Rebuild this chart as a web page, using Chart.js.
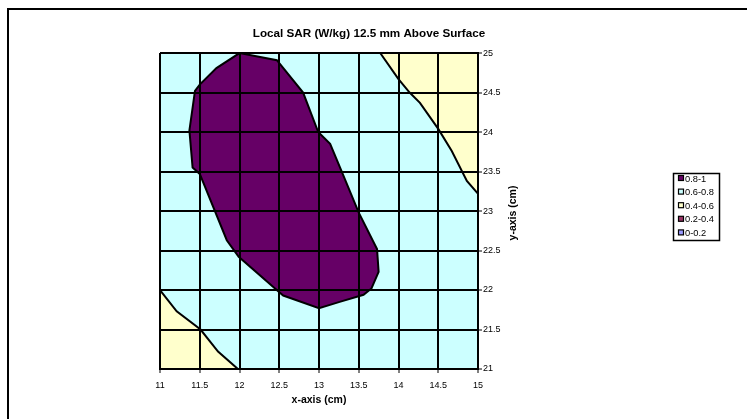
<!DOCTYPE html>
<html>
<head>
<meta charset="utf-8">
<script src="https://cdn.jsdelivr.net/npm/chart.js@4.4.1/dist/chart.umd.min.js"></script>
<style>
  html, body { margin: 0; padding: 0; background: #fff; overflow: hidden; }
  #wrap { position: relative; width: 747px; height: 419px; overflow: hidden; }
  #frame { position: absolute; left: 7px; top: 8px; width: 800px; height: 500px;
           border-left: 2px solid #000; border-top: 2px solid #000; }
  #chart { position: absolute; left: 0; top: 0; }
</style>
</head>
<body>
<div id="wrap">
  <div id="frame"></div>
  <canvas id="chart" width="747" height="419"></canvas>
</div>
<script>
const FONT = 'Arial, "Liberation Sans", sans-serif';

// tick values on both axes
const xTickValues = [11, 11.5, 12, 12.5, 13, 13.5, 14, 14.5, 15];
const yTickValues = [21, 21.5, 22, 22.5, 23, 23.5, 24, 24.5, 25];

// legend bands (Excel contour palette)
const legendLabels = ['0.8-1', '0.6-0.8', '0.4-0.6', '0.2-0.4', '0-0.2'];
const legendColors = ['#660066', '#CCFFFF', '#FFFFCC', '#993366', '#9999FF'];

// contour outlines, in cm
const plotCorners = [[11, 21], [15, 21], [15, 25], [11, 25], [11, 21]];

const bandHigh = [
  [12, 25], [12.47, 24.91], [12.8, 24.5], [12.99, 24.0], [13.14, 23.85],
  [13.29, 23.49], [13.5, 22.98], [13.73, 22.52], [13.75, 22.23], [13.66, 22.02],
  [13.56, 21.94], [13.26, 21.85], [13.0, 21.77], [12.55, 21.93], [12.49, 21.98],
  [11.99, 22.42], [11.84, 22.63], [11.5, 23.47], [11.41, 23.55], [11.37, 24.02],
  [11.44, 24.52], [11.5, 24.6], [11.71, 24.81], [12, 25]
];

const bandLowTop = [
  [13.77, 25], [14.0, 24.67], [14.14, 24.5], [14.27, 24.37], [14.5, 24.04],
  [14.67, 23.76], [14.86, 23.38], [15, 23.22], [15, 25], [13.77, 25]
];

const bandLowBottom = [
  [11, 22], [11.21, 21.73], [11.51, 21.5], [11.73, 21.22], [11.98, 21], [11, 21], [11, 22]
];

function polygon(points, color, lineWidth) {
  return {
    data: points.map(p => ({ x: p[0], y: p[1] })),
    showLine: true,
    fill: 'shape',
    backgroundColor: color,
    borderColor: '#000',
    borderWidth: lineWidth,
    pointRadius: 0,
    pointHoverRadius: 0,
    tension: 0
  };
}

const decor = {
  id: 'decor',
  afterDraw(chart) {
    const ctx = chart.ctx;
    const area = chart.chartArea;

    // y axis title, reads bottom to top
    ctx.save();
    ctx.fillStyle = '#000';
    ctx.font = 'bold 10.5px ' + FONT;
    ctx.textAlign = 'center';
    ctx.textBaseline = 'middle';
    ctx.translate(area.right + 35, (area.top + area.bottom) / 2 + 2);
    ctx.rotate(-Math.PI / 2);
    ctx.fillText('y-axis (cm)', 0, 0);
    ctx.restore();

    // legend box
    ctx.save();
    ctx.strokeStyle = '#000';
    ctx.lineWidth = 1.5;
    ctx.strokeRect(673.5, 173.5, 46, 67);
    ctx.font = '9.3px ' + FONT;
    ctx.textBaseline = 'middle';
    ctx.textAlign = 'left';
    legendLabels.forEach((label, i) => {
      const y = 178.5 + i * 13.6;
      ctx.fillStyle = legendColors[i];
      ctx.fillRect(678.5, y - 3, 5, 5);
      ctx.lineWidth = 1.2;
      ctx.strokeStyle = '#000';
      ctx.strokeRect(678.5, y - 3, 5, 5);
      ctx.fillStyle = '#000';
      ctx.fillText(label, 685, y + 0.5);
    });
    ctx.restore();
  }
};

new Chart(document.getElementById('chart'), {
  type: 'scatter',
  data: {
    datasets: [
      polygon(bandHigh, legendColors[0], 2),
      polygon(bandLowTop, legendColors[2], 2),
      polygon(bandLowBottom, legendColors[2], 2),
      polygon(plotCorners, legendColors[1], 0)
    ]
  },
  options: {
    responsive: false,
    animation: false,
    layout: { padding: { left: 160, right: 169, top: 0, bottom: 10 } },
    plugins: {
      legend: { display: false },
      tooltip: { enabled: false },
      title: {
        display: true,
        text: 'Local SAR (W/kg) 12.5 mm Above Surface',
        color: '#000',
        font: { family: FONT, size: 11.7, weight: 'bold' },
        padding: { top: 27, bottom: 12 }
      }
    },
    scales: {
      x: {
        type: 'linear',
        position: 'bottom',
        min: 11,
        max: 15,
        afterBuildTicks: s => { s.ticks = xTickValues.map(v => ({ value: v })); },
        afterFit: s => { s.height = 40; },
        grid: { z: 1, color: '#000', lineWidth: 2, tickLength: 4, tickColor: '#000', tickWidth: 1 },
        border: { z: 1, color: '#000', width: 2 },
        ticks: {
          color: '#000', font: { family: FONT, size: 9 }, padding: 7,
          maxRotation: 0, autoSkip: false, callback: v => String(v)
        },
        title: {
          display: true, text: 'x-axis (cm)', color: '#000',
          font: { family: FONT, size: 10.5, weight: 'bold' },
          padding: { top: 0, bottom: 3 }
        }
      },
      y: {
        type: 'linear',
        position: 'right',
        min: 21,
        max: 25,
        afterBuildTicks: s => { s.ticks = yTickValues.map(v => ({ value: v })); },
        afterFit: s => { s.width = 100; },
        grid: { z: 1, color: '#000', lineWidth: 2, tickLength: 4, tickColor: '#000', tickWidth: 1 },
        border: { z: 1, color: '#000', width: 2 },
        ticks: {
          color: '#000', font: { family: FONT, size: 9 }, padding: 1,
          autoSkip: false, callback: v => String(v)
        }
      }
    }
  },
  plugins: [decor]
});
</script>
</body>
</html>
